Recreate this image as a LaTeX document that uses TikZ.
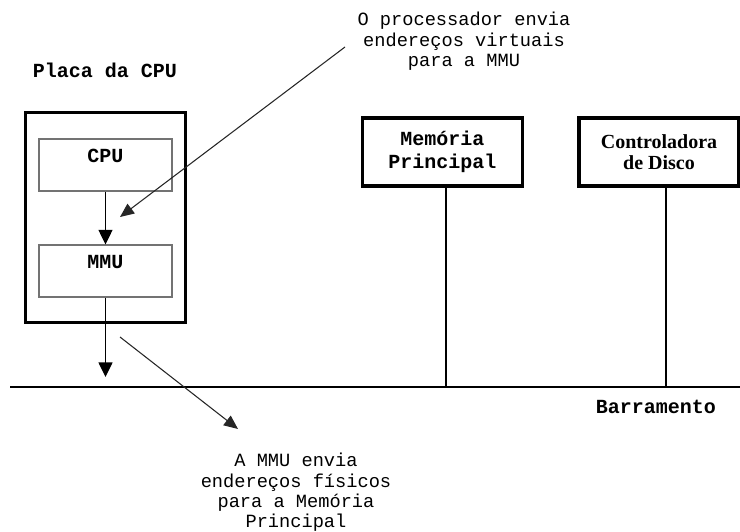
\documentclass[tikz,border=0pt]{standalone}
\usepackage{fontspec}
\setmainfont{Liberation Serif}
\setmonofont{Liberation Mono}
\usepackage{tikz}
\usetikzlibrary{arrows.meta}
\tikzstyle{line} = [draw, line width=1.1pt, -{Triangle[length=11pt,width=10.5pt]}]
\tikzstyle{noteline} = [draw, line width=0.8pt, black!85, -{Triangle[length=10.5pt,width=9pt]}]
\tikzstyle{board} = [draw, line width=2.4pt, minimum width=120pt, minimum height=158pt]
\tikzstyle{unit} = [draw, black!55, line width=0.8pt, minimum width=99.75pt, minimum height=39pt, text height=9pt, text depth=13pt, text=black, font=\ttfamily\bfseries\fontsize{15}{17}\selectfont]
\tikzstyle{device} = [draw, line width=2.4pt, minimum width=120pt, minimum height=51pt, align=center]
\tikzstyle{tap} = [draw, line width=1.1pt]
\tikzstyle{label} = [font=\ttfamily\bfseries\fontsize{15}{17}\selectfont]
\tikzstyle{note} = [font=\ttfamily\fontsize{14}{15.5}\selectfont, align=center]

\begin{document}
\begin{tikzpicture}[x=0.75pt, y=-0.75pt]
		\useasboundingbox (0,0) rectangle (740,532);
		\node[board] (placa) at (105.5,217.5) {};
		\node[unit] (cpu) at (105.5,165) {CPU};
		\node[unit] (mmu) at (105.5,271) {MMU};
		\node[device, label] (mem) at (442.5,152) {Memória\\Principal};
		\node[device, font=\rmfamily\bfseries\fontsize{15}{16}\selectfont] (ctrl) at (659,152) {Controladora\\de Disco};
		\node[label] (placalabel) at (105,70) {Placa da CPU};
		\node[label] (barlabel) at (656,407) {Barramento};
		\node[note] (notavirt) at (464,41.5) {O processador envia\\endereços virtuais\\para a MMU};
		\node[note, font=\ttfamily\fontsize{14}{15.2}\selectfont] (notafis) at (296,492.5) {A MMU envia\\endereços físicos\\para a Memória\\Principal};
		\coordinate (busL) at (10,387);
		\coordinate (busR) at (740,387);
		\coordinate (tapmem) at (446,387);
		\coordinate (tapctrl) at (666,387);
		\coordinate (mmuout) at (105.5,377);
		\coordinate (virtA) at (345,47);
		\coordinate (virtB) at (120,217);
		\coordinate (fisA) at (120,337);
		\coordinate (fisB) at (238,429);
		\draw[line width=1.8pt] (busL) -- (busR);
		\path [tap] (tapmem |- mem.south) -- (tapmem);
		\path [tap] (tapctrl |- ctrl.south) -- (tapctrl);
		\path [line] (cpu.south) -- (mmu.north);
		\path [line] (mmu.south) -- (mmuout);
		\path [noteline] (virtA) -- (virtB);
		\path [noteline] (fisA) -- (fisB);
\end{tikzpicture}
\end{document}
